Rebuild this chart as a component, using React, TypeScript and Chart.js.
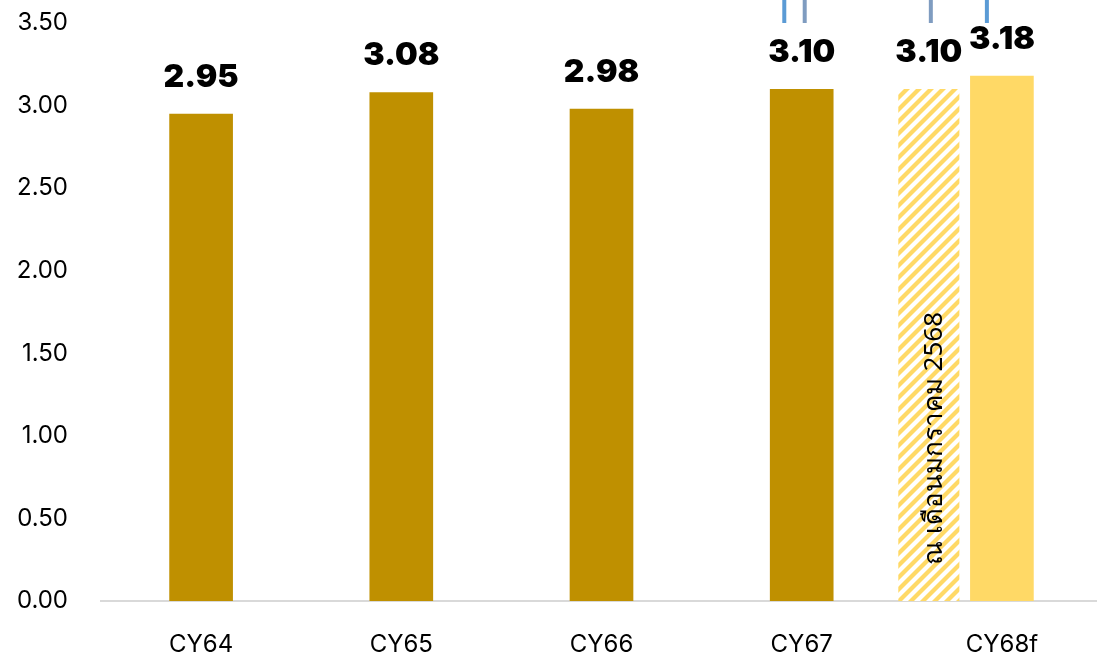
import React, { useEffect, useRef } from "react";
import { Chart, registerables } from "chart.js";

Chart.register(...registerables);

// ---- data ----
const categories = ["CY64", "CY65", "CY66", "CY67", "CY68f"];
const actualValues = [2.95, 3.08, 2.98, 3.1, 3.18];
const earlyEstimateValues = [null, null, null, null, 3.1];
const earlyEstimateNote = "ณ เดือนมกราคม 2568";
const yMin = 0;
const yMax = 3.5;
const yStep = 0.5;

// ---- styles ----
const DARK_GOLD = "#BF9000";
const LIGHT_GOLD = "#FFD966";
const FONT = "Inter, 'Noto Sans', 'DejaVu Sans', sans-serif";
const CANVAS_W = 1102;
const CANVAS_H = 658;

function makeHatch(): CanvasPattern | string {
  const size = 12;
  const c = document.createElement("canvas");
  c.width = size;
  c.height = size;
  const g = c.getContext("2d");
  if (!g) return LIGHT_GOLD;
  g.fillStyle = "#FFFFFF";
  g.fillRect(0, 0, size, size);
  g.strokeStyle = LIGHT_GOLD;
  g.lineWidth = 4.2;
  g.lineCap = "square";
  for (let k = -1; k <= 1; k++) {
    g.beginPath();
    g.moveTo(k * size - 2, size + 2);
    g.lineTo(k * size + size + 2, -2);
    g.stroke();
  }
  return g.createPattern(c, "repeat") || LIGHT_GOLD;
}

export default function App() {
  const canvasRef = useRef<HTMLCanvasElement | null>(null);

  useEffect(() => {
    document.body.style.margin = "0";
    document.body.style.overflow = "hidden";
    const canvas = canvasRef.current;
    if (!canvas) return;

    const shiftPlugin = {
      id: "shiftEstimate",
      afterDatasetsUpdate(chart: any) {
        const xs = chart.scales.x;
        const cw = xs.getPixelForValue(1) - xs.getPixelForValue(0);
        const meta = chart.getDatasetMeta(0);
        meta.data.forEach((el: any) => {
          el.x = el.x - cw * 0.365;
        });
      },
    };

    const labelPlugin = {
      id: "valueLabels",
      afterDatasetsDraw(chart: any) {
        const ctx = chart.ctx;
        ctx.save();
        ctx.fillStyle = "#000000";
        ctx.font = `900 32px ${FONT}`;
        ctx.textAlign = "center";
        ctx.textBaseline = "alphabetic";
        chart.data.datasets.forEach((ds: any, di: number) => {
          const meta = chart.getDatasetMeta(di);
          meta.data.forEach((el: any, i: number) => {
            const v = ds.data[i];
            if (v === null || v === undefined) return;
            ctx.fillText(Number(v).toFixed(2), el.x, el.y - 27);
          });
        });
        // rotated note inside the hatched bar
        const meta0 = chart.getDatasetMeta(0);
        meta0.data.forEach((el: any, i: number) => {
          const v = chart.data.datasets[0].data[i];
          if (v === null || v === undefined) return;
          ctx.save();
          ctx.translate(el.x + 6, el.base - 36);
          ctx.rotate(-Math.PI / 2);
          ctx.font = `400 26px 'Noto Sans', 'DejaVu Sans', sans-serif`;
          ctx.textAlign = "left";
          ctx.textBaseline = "middle";
          ctx.fillText(earlyEstimateNote, 0, 0);
          ctx.restore();
        });
        ctx.restore();
      },
    };

    // truncated connector lines at top (annotation remnants)
    const connectorPlugin = {
      id: "connectors",
      afterDraw(chart: any) {
        const ctx = chart.ctx;
        const xs = chart.scales.x;
        const cw = xs.getPixelForValue(1) - xs.getPixelForValue(0);
        const top = chart.chartArea.top;
        const specs = [
          { ds: 1, idx: 3, off: -0.087, color: "#5B9BD5" },
          { ds: 1, idx: 3, off: 0.015, color: "#7F9CC0" },
          { ds: 0, idx: 4, off: 0.01, color: "#7F9CC0" },
          { ds: 1, idx: 4, off: -0.075, color: "#5B9BD5" },
        ];
        ctx.save();
        ctx.lineWidth = 4;
        specs.forEach((s) => {
          const el = chart.getDatasetMeta(s.ds).data[s.idx];
          if (!el) return;
          const x = el.x + s.off * cw;
          ctx.strokeStyle = s.color;
          ctx.beginPath();
          ctx.moveTo(x, 0);
          ctx.lineTo(x, top);
          ctx.stroke();
        });
        ctx.restore();
      },
    };

    const chart = new Chart(canvas, {
      type: "bar",
      data: {
        labels: categories,
        datasets: [
          {
            label: "ประมาณการ ณ เดือนมกราคม 2568",
            data: earlyEstimateValues as any,
            backgroundColor: makeHatch() as any,
            borderWidth: 0,
            grouped: false,
            categoryPercentage: 1,
            barPercentage: 0.305,
          },
          {
            label: "ค่าจริง/ประมาณการ",
            data: actualValues,
            backgroundColor: actualValues.map((_, i) =>
              i === actualValues.length - 1 ? LIGHT_GOLD : DARK_GOLD
            ),
            borderWidth: 0,
            grouped: false,
            categoryPercentage: 1,
            barPercentage: 0.318,
          },
        ],
      },
      options: {
        animation: false,
        responsive: false,
        devicePixelRatio: 1,
        events: [],
        layout: { padding: { top: 23, left: 0, right: 0, bottom: 1 } },
        plugins: {
          legend: { display: false },
          tooltip: { enabled: false },
          title: { display: false },
        },
        scales: {
          x: {
            grid: { display: false, drawTicks: false },
            border: { display: true, color: "#D9D9D9", width: 2 },
            ticks: {
              color: "#000000",
              font: { family: FONT, size: 24 },
              padding: 29,
              maxRotation: 0,
            },
            afterFit: (scale: any) => {
              scale.height = 56;
            },
          },
          y: {
            min: yMin,
            max: yMax,
            grid: { display: false, drawTicks: false },
            border: { display: false },
            ticks: {
              stepSize: yStep,
              color: "#000000",
              font: { family: FONT, size: 24 },
              padding: 33,
              callback: (v: any) => Number(v).toFixed(2),
            },
            afterFit: (scale: any) => {
              scale.width = 101;
              scale.paddingTop = 10;
              scale.paddingBottom = 10;
            },
          },
        },
      },
      plugins: [shiftPlugin, labelPlugin, connectorPlugin],
    });

    return () => {
      chart.destroy();
    };
  }, []);

  return (
    <div style={{ width: CANVAS_W, height: CANVAS_H, position: "relative" }}>
      <canvas
        ref={canvasRef}
        width={CANVAS_W}
        height={CANVAS_H}
        style={{ display: "block", width: CANVAS_W, height: CANVAS_H }}
      />
    </div>
  );
}
